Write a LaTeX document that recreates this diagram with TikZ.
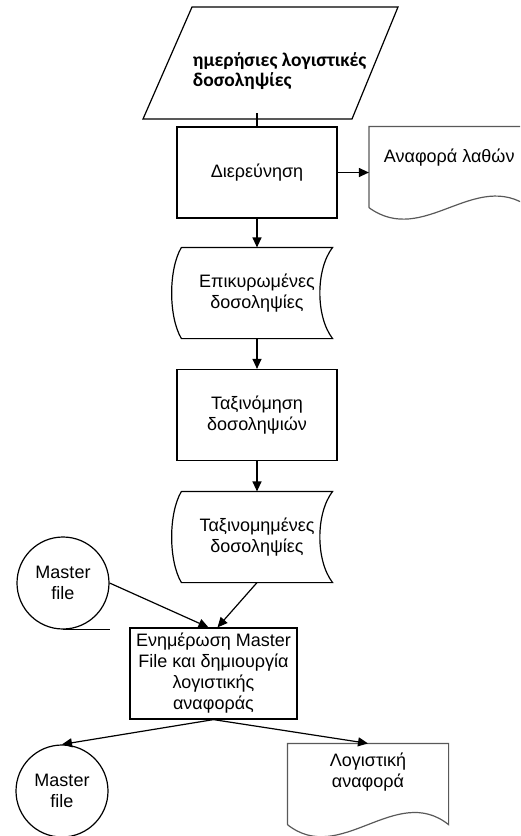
\documentclass[tikz,border=0pt]{standalone}
\usepackage{fontspec}
\setmainfont{Liberation Sans}
\newfontfamily\titlefont{Carlito}
\usetikzlibrary{arrows.meta}

\tikzset{every picture/.style={line width=1.2pt}}
\tikzset{
  proc/.style={draw, minimum width=160pt, minimum height=91pt, align=center, font=\fontsize{18}{21}\selectfont},
  store/.style={minimum width=150pt, minimum height=90pt, align=center, font=\fontsize{18}{21}\selectfont},
  doc/.style={minimum width=160pt, minimum height=80pt, align=center, font=\fontsize{18}{21}\selectfont},
  reel/.style={circle, draw, minimum size=92pt, inner sep=0pt, align=center, font=\fontsize{18}{21}\selectfont},
  docline/.style={draw=black!65},
  flow/.style={-{Triangle[length=10pt,width=9pt]}}
}

\begin{document}
\begin{tikzpicture}[x=1pt, y=-1pt]
  \useasboundingbox (0,0) rectangle (520,836);
  \clip (0,0) rectangle (520,836);

  % Είσοδος
  \draw (192,7) -- (398,7) -- (352,119) -- (143,119) -- cycle;
  \node[anchor=west, align=left, font=\titlefont\bfseries\fontsize{19.5}{20}\selectfont] (daily) at (189,71) {ημερήσιες λογιστικές\\δοσοληψίες};
  \coordinate (inbot) at (257,113);

  % Διεργασίες και αρχεία
  \node[proc] (check) at (257,172.5) {Διερεύνηση};
  \node[store] (valid) at (257,293) {Επικυρωμένες\\δοσοληψίες};
  \node[proc] (sort) at (257,415) {Ταξινόμηση\\δοσοληψιών};
  \node[store] (sorted) at (257,537) {Ταξινομημένες\\δοσοληψίες};
  \node[reel] (mold) at (63,583) {Master\\file};
  \node[proc, minimum width=167pt] (update) at (213.5,673.5) {Ενημέρωση Master\\File και δημιουργία\\λογιστικής\\αναφοράς};
  \node[reel] (mnew) at (62,791) {Master\\file};

  % Αναφορές
  \node[doc] (errs) at (449.5,167) {};
  \node[anchor=west, font=\fontsize{18}{21}\selectfont] (errtext) at (380,158) {Αναφορά λαθών};
  \node[doc] (report) at (368,784) {Λογιστική\\αναφορά\\[6pt]};

  % Περιγράμματα
  \draw (valid.north west) -- (valid.north east) .. controls +(-17,22) and +(-17,-22) .. (valid.south east)
    -- (valid.south west) .. controls +(-13,-22) and +(-13,22) .. (valid.north west);
  \draw (sorted.north west) -- (sorted.north east) .. controls +(-17,22) and +(-17,-22) .. (sorted.south east)
    -- (sorted.south west) .. controls +(-13,-22) and +(-13,22) .. (sorted.north west);
  \draw[docline] (errs.south west) -- (errs.north west) -- (errs.north east) -- (errs.south east)
    .. controls +(-55,-40) and +(55,40) .. (errs.south west);
  \draw[docline] (report.south west) -- (report.north west) -- (report.north east) -- (report.south east)
    .. controls +(-53,-42) and +(53,42) .. (report.south west);
  \draw (mold.south) -- +(47,0);
  \draw (mnew.south) -- +(48,0);

  % Ροή
  \draw (inbot) -- (check.north);
  \draw[flow] (check.east) -- (errs.west |- check.east);
  \draw[flow] (check) -- (valid);
  \draw[flow] (valid) -- (sort);
  \draw[flow] (sort) -- (sorted);
  \draw[flow] (mold.east) -- ([xshift=-5pt]update.north);
  \draw[flow] (sorted.south) -- ([xshift=4pt]update.north);
  \draw[flow] (update.south) -- (mnew.north);
  \draw[flow] (update.south) -- (report.north);
\end{tikzpicture}
\end{document}
